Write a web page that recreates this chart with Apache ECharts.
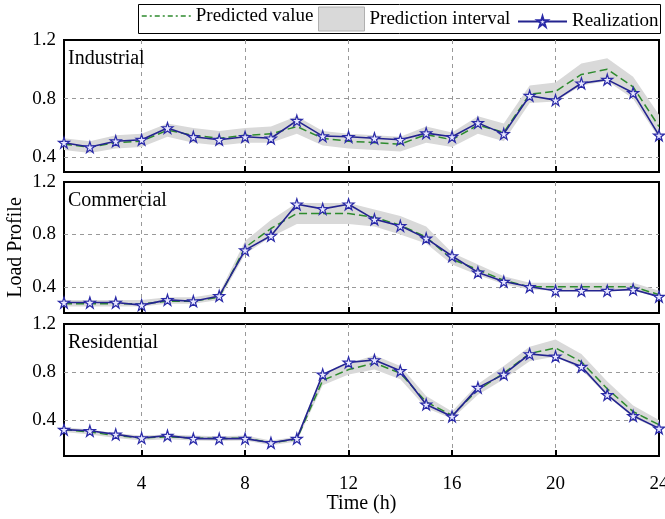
<!DOCTYPE html>
<html>
<head>
<meta charset="utf-8">
<script src="https://cdn.jsdelivr.net/npm/echarts@6/dist/echarts.min.js"></script>
<style>
  html, body { margin: 0; padding: 0; background: #fff; }
  #main { width: 665px; height: 519px; }
</style>
</head>
<body>
<div id="main"></div>
<script>
var hours = ['1','2','3','4','5','6','7','8','9','10','11','12','13','14','15','16','17','18','19','20','21','22','23','24'];
var panelNames = ['Industrial', 'Commercial', 'Residential'];
var yMins = [0.3, 0.2, 0.1];
var yLabels = [0.4, 0.8, 1.2];
var yGrid = [0.4, 0.8];

// Industrial
var indReal = [0.50,0.47,0.51,0.52,0.60,0.54,0.52,0.54,0.53,0.65,0.545,0.54,0.53,0.52,0.565,0.54,0.635,0.56,0.82,0.79,0.905,0.93,0.84,0.55];
var indPred = [0.49,0.47,0.50,0.51,0.585,0.55,0.53,0.55,0.56,0.61,0.53,0.51,0.50,0.49,0.555,0.52,0.62,0.57,0.83,0.85,0.965,1.00,0.88,0.61];
var indLow  = [0.45,0.43,0.46,0.47,0.54,0.50,0.48,0.50,0.50,0.56,0.48,0.46,0.45,0.44,0.50,0.47,0.56,0.51,0.77,0.78,0.89,0.92,0.80,0.53];
var indHigh = [0.53,0.51,0.55,0.56,0.63,0.60,0.58,0.60,0.61,0.68,0.58,0.56,0.55,0.54,0.61,0.57,0.68,0.63,0.89,0.91,1.04,1.075,0.95,0.69];

// Commercial
var comReal = [0.28,0.28,0.28,0.26,0.30,0.29,0.33,0.68,0.79,1.03,0.995,1.03,0.915,0.865,0.77,0.635,0.51,0.44,0.40,0.37,0.37,0.37,0.38,0.325];
var comPred = [0.27,0.27,0.27,0.27,0.29,0.29,0.32,0.70,0.845,0.96,0.96,0.96,0.93,0.87,0.78,0.61,0.53,0.45,0.40,0.40,0.40,0.40,0.40,0.34];
var comLow  = [0.25,0.25,0.25,0.25,0.27,0.27,0.30,0.65,0.78,0.88,0.88,0.88,0.86,0.80,0.73,0.57,0.49,0.42,0.38,0.37,0.37,0.37,0.37,0.32];
var comHigh = [0.30,0.30,0.30,0.30,0.32,0.32,0.35,0.75,0.91,1.04,1.04,1.04,0.99,0.94,0.86,0.66,0.57,0.48,0.43,0.43,0.43,0.43,0.43,0.37];

// Residential
var resReal = [0.32,0.31,0.28,0.25,0.27,0.245,0.245,0.245,0.21,0.245,0.78,0.88,0.90,0.81,0.53,0.43,0.67,0.78,0.95,0.93,0.845,0.61,0.435,0.33];
var resPred = [0.32,0.30,0.27,0.25,0.26,0.25,0.245,0.25,0.21,0.24,0.73,0.82,0.875,0.79,0.55,0.44,0.65,0.79,0.955,1.00,0.885,0.66,0.47,0.36];
var resLow  = [0.30,0.28,0.25,0.23,0.24,0.23,0.225,0.23,0.19,0.22,0.69,0.78,0.82,0.74,0.50,0.41,0.61,0.74,0.89,0.93,0.82,0.60,0.42,0.32];
var resHigh = [0.34,0.32,0.29,0.27,0.28,0.27,0.265,0.27,0.23,0.26,0.78,0.87,0.94,0.85,0.60,0.47,0.70,0.85,1.01,1.07,0.95,0.72,0.52,0.40];

var reals = [indReal, comReal, resReal];
var preds = [indPred, comPred, resPred];
var lows = [indLow, comLow, resLow];
var highs = [indHigh, comHigh, resHigh];

var font = 'Liberation Serif';
var star = 'path://M50,0 L61,35 L98,35 L68,57 L79,91 L50,70 L21,91 L32,57 L2,35 L39,35 Z';
var gridPos = [{top: 40, height: 132}, {top: 182, height: 131}, {top: 324, height: 132}];

// every 4th hour gets a tick / label; grid lines skip the right edge
function every4(index) { return (index + 1) % 4 === 0; }
function inner4(index) { return (index + 1) % 4 === 0 && index < hours.length - 1; }

var grids = [], xAxes = [], yAxes = [], series = [], titles = [];
for (var i = 0; i < 3; i++) {
    grids.push({
        left: 64, right: 6, top: gridPos[i].top, height: gridPos[i].height,
        outerBoundsMode: 'none',
        show: true, borderColor: '#000', borderWidth: 2
    });
    xAxes.push({
        type: 'category', gridIndex: i, data: hours, boundaryGap: false,
        name: i === 2 ? 'Time (h)' : '',
        nameLocation: 'middle', nameGap: 38, nameMoveOverlap: false,
        nameTextStyle: {fontFamily: font, fontSize: 20, color: '#000'},
        axisLine: {lineStyle: {color: '#000', width: 2}},
        axisTick: {inside: true, length: 6, interval: every4, lineStyle: {color: '#000', width: 2}},
        axisLabel: {show: i === 2, interval: every4, margin: 19,
            fontFamily: font, fontSize: 19, color: '#000'},
        splitLine: {show: true, interval: inner4, lineStyle: {color: '#999', type: [4, 4], width: 1}}
    });
    yAxes.push({
        type: 'value', gridIndex: i, min: yMins[i], max: 1.2,
        name: i === 1 ? 'Load Profile' : '',
        nameLocation: 'middle', nameGap: 38, nameMoveOverlap: false,
        nameTextStyle: {fontFamily: font, fontSize: 20, color: '#000'},
        axisLine: {lineStyle: {color: '#000', width: 2}},
        axisTick: {inside: true, length: 6, lineStyle: {color: '#000', width: 2}, customValues: yGrid},
        axisLabel: {customValues: yLabels, margin: 8, fontFamily: font, fontSize: 19, color: '#000',
            formatter: function (v) { return v.toFixed(1); }},
        splitLine: {show: true, lineStyle: {color: '#999', type: [4, 4], width: 1}}
    });
    titles.push({
        text: panelNames[i], left: 68, top: gridPos[i].top + 9, padding: 0,
        textStyle: {fontFamily: font, fontSize: 20, fontWeight: 'normal', color: '#000'}
    });

    var diff = highs[i].map(function (v, k) { return +(v - lows[i][k]).toFixed(4); });
    series.push({
        name: 'band-base', type: 'line', xAxisIndex: i, yAxisIndex: i,
        stack: 'band' + i, data: lows[i], symbol: 'none', silent: true,
        lineStyle: {opacity: 0}, z: 1
    });
    series.push({
        name: 'Prediction interval', type: 'line', xAxisIndex: i, yAxisIndex: i,
        stack: 'band' + i, data: diff, symbol: 'none', silent: true,
        lineStyle: {opacity: 0}, itemStyle: {color: '#d9d9d9'},
        areaStyle: {color: '#d9d9d9', opacity: 1}, z: 1
    });
    series.push({
        name: 'Predicted value', type: 'line', xAxisIndex: i, yAxisIndex: i,
        data: preds[i], symbol: 'none',
        itemStyle: {color: '#2e8b2e'},
        lineStyle: {color: '#2e8b2e', width: 1.5, type: [8, 4]}, z: 2
    });
    series.push({
        name: 'Realization', type: 'line', xAxisIndex: i, yAxisIndex: i,
        data: reals[i], symbol: star, symbolSize: 11,
        itemStyle: {color: '#e8e8ff', borderColor: '#2a2aa8', borderWidth: 1.2},
        lineStyle: {color: '#24248f', width: 1.6}, z: 3
    });
}

var legendText = {fontFamily: font, fontSize: 19, color: '#000'};
var myChart = echarts.init(document.getElementById('main'));
var option = {
    backgroundColor: '#fff',
    animation: false,
    title: titles,
    graphic: [{
        type: 'rect', left: 138, top: 4,
        shape: {width: 522, height: 29},
        style: {fill: '#fff', stroke: '#000', lineWidth: 1}, z: 0
    }],
    legend: [{
        left: 141, top: 6.5, padding: 0, itemWidth: 49, itemHeight: 24,
        textStyle: legendText,
        data: [{name: 'Predicted value', itemStyle: {opacity: 0},
            lineStyle: {type: [5, 3, 2, 3], width: 1.5}}]
    }, {
        left: 318, top: 6.5, padding: 0, itemWidth: 46, itemHeight: 24,
        textStyle: legendText,
        data: [{name: 'Prediction interval', icon: 'rect',
            itemStyle: {color: '#d9d9d9', borderColor: '#b0b0b0', borderWidth: 1}}]
    }, {
        left: 517, top: 12, padding: 0, itemWidth: 49, itemHeight: 13,
        textStyle: legendText,
        data: [{name: 'Realization'}]
    }],
    grid: grids,
    xAxis: xAxes,
    yAxis: yAxes,
    series: series
};
myChart.setOption(option);
</script>
</body>
</html>
